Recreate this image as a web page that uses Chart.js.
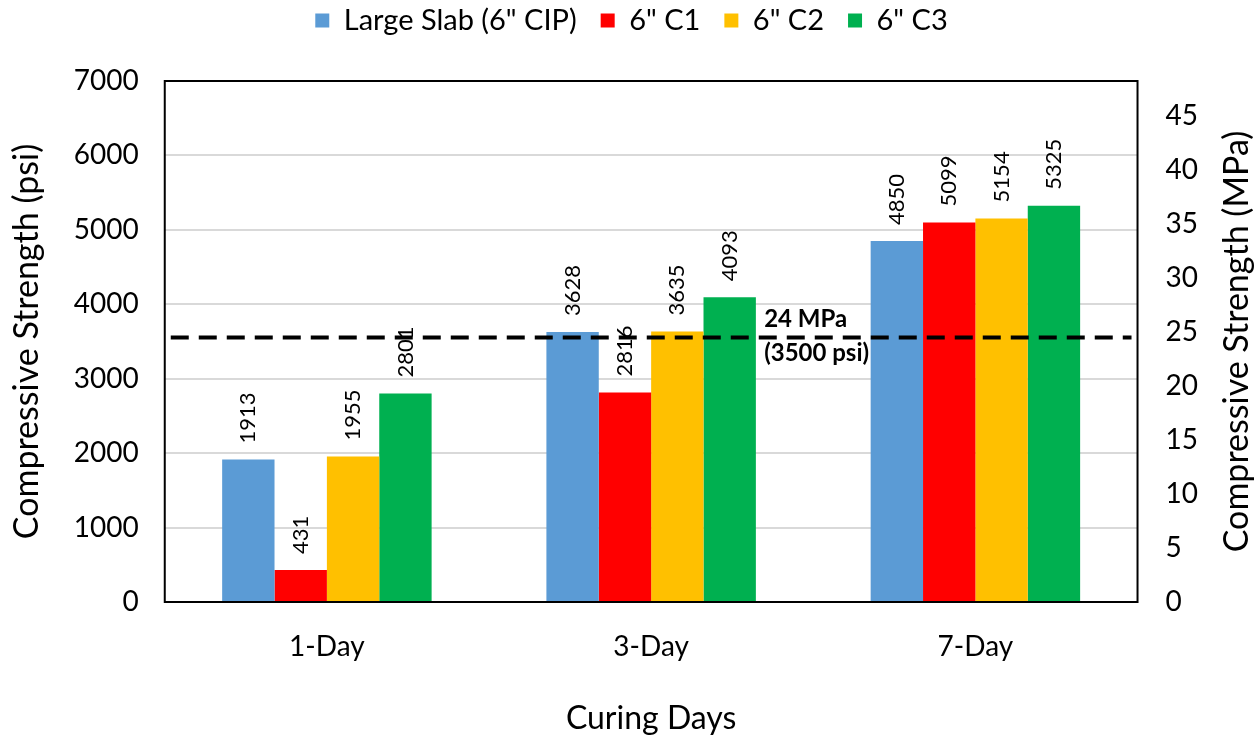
<!DOCTYPE html>
<html>
<head>
<meta charset="utf-8">
<script src="https://cdn.jsdelivr.net/npm/chart.js@4.4.1/dist/chart.umd.min.js"></script>
<style>body{margin:0;background:#fff}</style>
</head>
<body>
<canvas id="grafico" width="1260" height="740"></canvas>
<script>
var dias = ['1-Day', '3-Day', '7-Day'];
var nomes = ['Large Slab (6" CIP)', '6" C1', '6" C2', '6" C3'];
var cores = ['#5B9BD5', '#FF0000', '#FFC000', '#00B050'];
var slab = [1913, 3628, 4850];
var c1 = [431, 2816, 5099];
var c2 = [1955, 3635, 5154];
var c3 = [2801, 4093, 5325];
var psiTicks = [0, 1000, 2000, 3000, 4000, 5000, 6000, 7000];
var mpaTicks = [0, 5, 10, 15, 20, 25, 30, 35, 40, 45];
var limitePsi = 3555; // linha tracejada
var limiteTexto = ['24 MPa', '(3500 psi)'];
var psiPorMpa = 145.038;

var fonte = 'Lato';

// espaco extra abaixo da legenda
var espacoLegenda = {
    id: 'espacoLegenda',
    beforeInit: function(chart) {
        var fitOriginal = chart.legend.fit;
        chart.legend.fit = function() {
            fitOriginal.bind(chart.legend)();
            this.height = 99;
        };
    }
};

// linha tracejada, rotulos e moldura
var extras = {
    id: 'extras',
    afterDatasetsDraw: function(chart) {
        var ctx = chart.ctx, a = chart.chartArea, y = chart.scales.y;
        ctx.save();
        ctx.fillStyle = '#000';
        ctx.strokeStyle = '#000';

        var yl = y.getPixelForValue(limitePsi);
        ctx.lineWidth = 4;
        ctx.setLineDash([18, 10]);
        ctx.beginPath();
        ctx.moveTo(a.left + 6, yl);
        ctx.lineTo(a.right - 6, yl);
        ctx.stroke();
        ctx.setLineDash([]);

        var xl = chart.scales.x.getPixelForValue(1) + 113;
        ctx.font = 'bold 24px ' + fonte;
        ctx.textAlign = 'left';
        ctx.textBaseline = 'middle';
        ctx.fillText(limiteTexto[0], xl, yl - 18);
        ctx.fillText(limiteTexto[1], xl, yl + 16);

        ctx.font = '22px ' + fonte;
        chart.data.datasets.forEach(function(ds, i) {
            chart.getDatasetMeta(i).data.forEach(function(bar, j) {
                ctx.save();
                ctx.translate(bar.x, bar.y - 16);
                ctx.rotate(-Math.PI / 2);
                ctx.textAlign = 'left';
                ctx.textBaseline = 'middle';
                ctx.fillText(ds.data[j], 0, 0);
                ctx.restore();
            });
        });

        ctx.lineWidth = 2;
        ctx.strokeRect(a.left, a.top, a.right - a.left, a.bottom - a.top);

        // titulo do eixo direito (lido de baixo para cima)
        ctx.save();
        ctx.translate(chart.width - 23, (a.top + a.bottom) / 2);
        ctx.rotate(-Math.PI / 2);
        ctx.font = '34px ' + fonte;
        ctx.textAlign = 'center';
        ctx.textBaseline = 'middle';
        ctx.fillText('Compressive Strength (MPa)', 0, 0);
        ctx.restore();

        ctx.restore();
    }
};

var ctx = document.getElementById('grafico').getContext('2d');
var myChart = new Chart(ctx, {
    type: 'bar',
    data: {
        labels: dias,
        datasets: [slab, c1, c2, c3].map(function(d, i) {
            return {
                label: nomes[i],
                data: d,
                backgroundColor: cores[i],
                borderWidth: 0,
                categoryPercentage: 0.646,
                barPercentage: 1
            };
        })
    },
    options: {
        responsive: false,
        animation: false,
        layout: { padding: { left: 3, right: 0, top: -18, bottom: 0 } },
        scales: {
            x: {
                grid: { display: false, drawTicks: false },
                border: { display: false },
                ticks: { color: '#000', padding: 28, font: { family: fonte, size: 28 } },
                title: {
                    display: true,
                    text: 'Curing Days',
                    color: '#000',
                    font: { family: fonte, size: 32 },
                    padding: { top: 8, bottom: 2 }
                }
            },
            y: {
                min: 0,
                max: 7000,
                afterBuildTicks: function(s) {
                    s.ticks = psiTicks.map(function(v) { return { value: v }; });
                },
                grid: { color: '#d9d9d9', lineWidth: 2, drawTicks: false },
                border: { display: false },
                ticks: {
                    color: '#000',
                    padding: 26,
                    font: { family: fonte, size: 28 },
                    callback: function(v) { return String(v); }
                },
                title: {
                    display: true,
                    text: 'Compressive Strength (psi)',
                    color: '#000',
                    font: { family: fonte, size: 34 },
                    padding: { top: 4, bottom: 0 }
                }
            },
            y1: {
                position: 'right',
                min: 0,
                max: 7000 / psiPorMpa,
                afterBuildTicks: function(s) {
                    s.ticks = mpaTicks.map(function(v) { return { value: v }; });
                },
                afterFit: function(s) {
                    s.width += 34; // lugar do titulo desenhado a mao
                },
                grid: { display: false, drawTicks: false },
                border: { display: false },
                ticks: {
                    color: '#000',
                    padding: 28,
                    font: { family: fonte, size: 28 },
                    callback: function(v) { return String(v); }
                }
            }
        },
        plugins: {
            legend: {
                position: 'top',
                labels: {
                    color: '#000',
                    boxWidth: 14,
                    boxHeight: 14,
                    padding: 24,
                    font: { family: fonte, size: 29 }
                }
            },
            tooltip: { enabled: false }
        }
    },
    plugins: [espacoLegenda, extras]
});
</script>
</body>
</html>
